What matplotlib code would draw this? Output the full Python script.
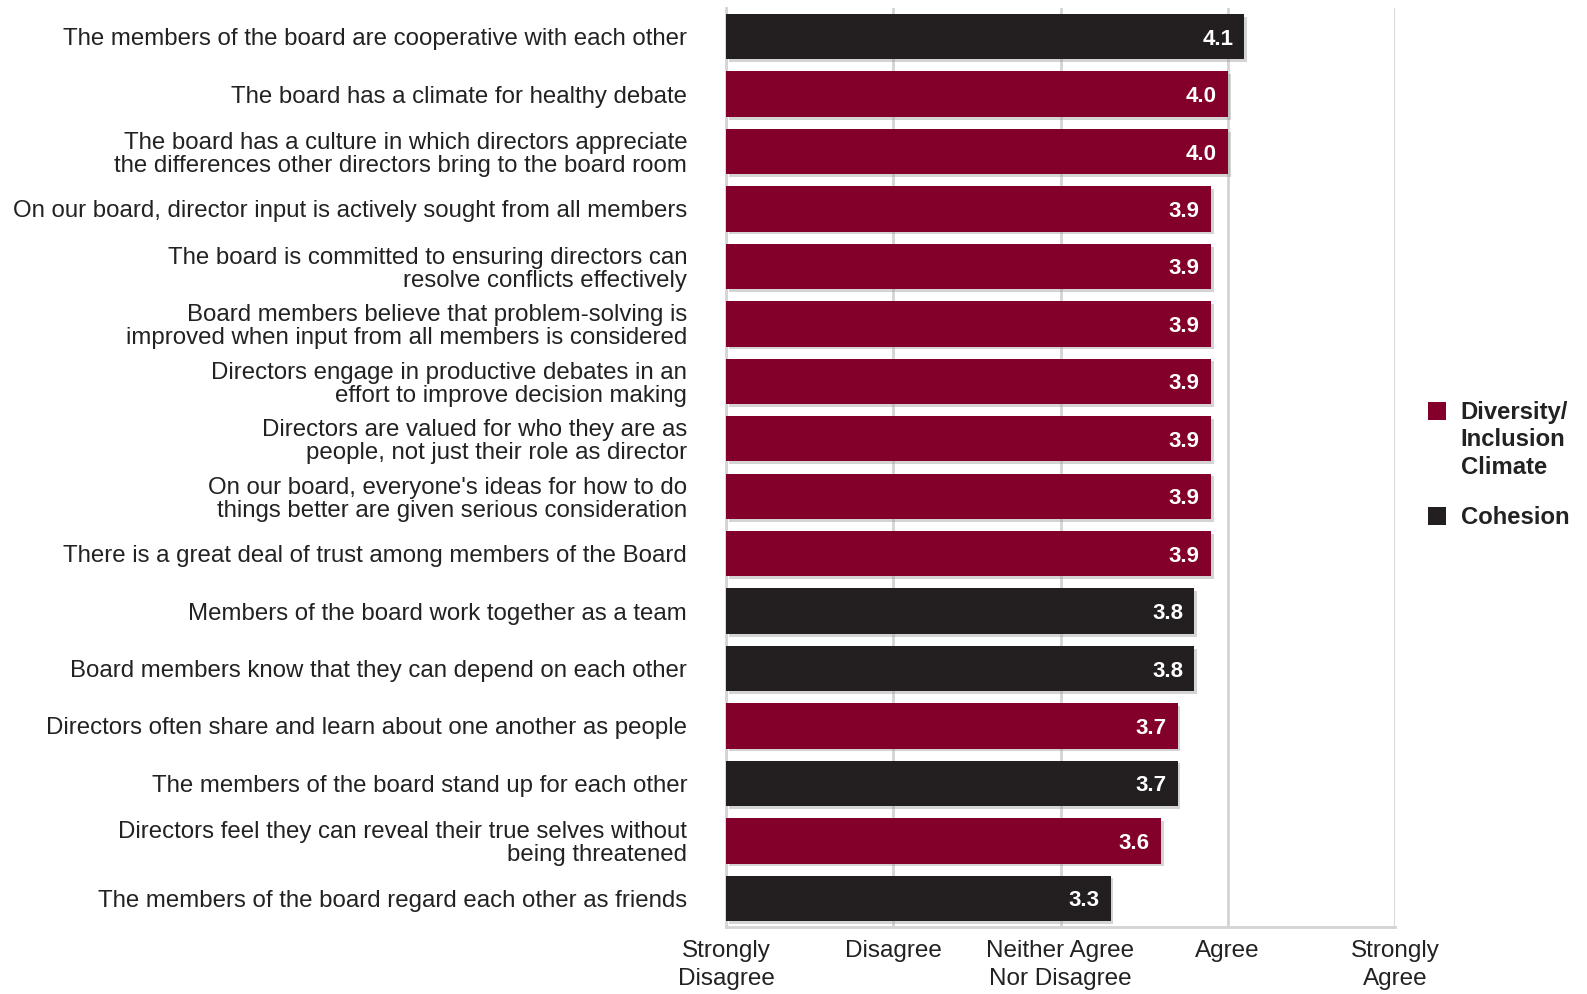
import numpy as np
import matplotlib.pyplot as plt
import matplotlib.patheffects as pe
from matplotlib.patches import Rectangle

# board climate survey items, top to bottom
statements = [
    "The members of the board are cooperative with each other",
    "The board has a climate for healthy debate",
    "The board has a culture in which directors appreciate\nthe differences other directors bring to the board room",
    "On our board, director input is actively sought from all members",
    "The board is committed to ensuring directors can\nresolve conflicts effectively",
    "Board members believe that problem-solving is\nimproved when input from all members is considered",
    "Directors engage in productive debates in an\neffort to improve decision making",
    "Directors are valued for who they are as\npeople, not just their role as director",
    "On our board, everyone's ideas for how to do\nthings better are given serious consideration",
    "There is a great deal of trust among members of the Board",
    "Members of the board work together as a team",
    "Board members know that they can depend on each other",
    "Directors often share and learn about one another as people",
    "The members of the board stand up for each other",
    "Directors feel they can reveal their true selves without\nbeing threatened",
    "The members of the board regard each other as friends",
]
scores = [4.1, 4.0, 4.0, 3.9, 3.9, 3.9, 3.9, 3.9, 3.9, 3.9, 3.8, 3.8, 3.7, 3.7, 3.6, 3.3]
groups = ["C", "D", "D", "D", "D", "D", "D", "D", "D", "D", "C", "C", "D", "C", "D", "C"]

scale_ticks = [1, 2, 3, 4, 5]
scale_labels = ["Strongly\nDisagree", "Disagree", "Neither Agree\nNor Disagree", "Agree", "Strongly\nAgree"]

group_names = {"D": "Diversity/\nInclusion\nClimate", "C": "Cohesion"}
group_colors = {"D": "#83002a", "C": "#231f20"}

plt.rcParams['font.family'] = ['Liberation Sans', 'DejaVu Sans']

fig = plt.figure(figsize=(15.87, 9.94), dpi=100)
ax = fig.add_axes([0.4575, 0.0674, 0.879 - 0.4575, 0.9246])

XMIN = 1
y = np.arange(len(scores))
vals = np.array(scores)
colors = [group_colors[g] for g in groups]

bars = ax.barh(y, vals - XMIN, left=XMIN, height=0.79, color=colors, zorder=3)
for b in bars:
    b.set_path_effects([pe.SimplePatchShadow(offset=(2, -2), shadow_rgbFace='#a0a0a0', alpha=0.45),
                        pe.Normal()])

for yi, v in zip(y, vals):
    ax.annotate(f"{v:.1f}", xy=(v, yi), xytext=(-8, 0), textcoords='offset points',
                ha='right', va='center_baseline', color='white', fontsize=16, fontweight='bold',
                zorder=4)

ax.set_xlim(1, 5)
ax.set_ylim(len(scores) - 0.5, -0.5)

ax.set_yticks(y)
ax.set_yticklabels(statements, fontsize=17.3, color='#222222', linespacing=1.06)
ax.tick_params(axis='y', length=0, pad=28)

ax.set_xticks(scale_ticks)
ax.set_xticklabels(scale_labels, fontsize=17.5, color='#222222', linespacing=1.35)
ax.tick_params(axis='x', length=0, pad=9.5)

ax.grid(axis='x', color='#d4d4d4', linewidth=2, zorder=0)
for side in ['top', 'right']:
    ax.spines[side].set_visible(False)
for side in ['left', 'bottom']:
    ax.spines[side].set_color('#d4d4d4')
    ax.spines[side].set_linewidth(2)

# legend drawn in figure coordinates
legend_rows = [("D", 0.596, 0.597), ("C", 0.490, 0.491)]
for key, sq_top, txt_top in legend_rows:
    fig.patches.append(Rectangle((0.8995, sq_top - 0.0185), 0.0115, 0.0185, transform=fig.transFigure,
                                 facecolor=group_colors[key], edgecolor='none'))
    fig.text(0.9205, txt_top, group_names[key], ha='left', va='top', fontsize=17.2,
             fontweight='bold', color='#222222', linespacing=1.25)

fig.savefig("out.png", dpi=100)
